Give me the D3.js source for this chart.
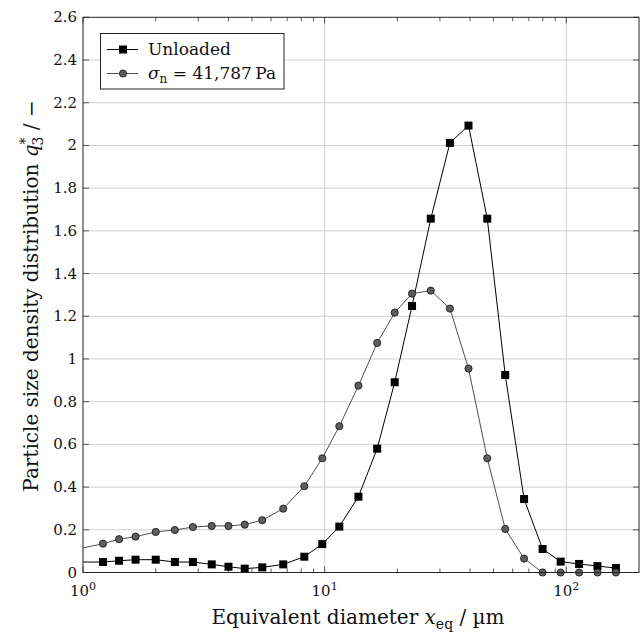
<!DOCTYPE html>
<html lang="en">
<head>
<meta charset="UTF-8">
<title>Particle size density</title>
<script src="https://cdn.jsdelivr.net/npm/d3@7"></script>
<style>
  body { margin: 0; background: #fff; }
  text { font-family: "DejaVu Serif", serif; fill: #111; }
</style>
</head>
<body>
<svg width="644" height="637"></svg>
<script>
// equivalent diameter (µm), shared by both series; the first one lies left of the axis
var diam = [0.85, 1.21, 1.41, 1.65, 2.0, 2.4, 2.85, 3.41, 4.0, 4.67, 5.52, 6.74, 8.24, 9.78,
            11.5, 13.8, 16.5, 19.5, 23.0, 27.5, 33.0, 39.4, 47.1, 55.9, 66.9, 79.8, 94.8, 113, 134.6, 160.5];
var unloaded = [0.049, 0.049, 0.055, 0.060, 0.060, 0.049, 0.049, 0.038, 0.027, 0.018, 0.024, 0.038, 0.074, 0.133,
                0.215, 0.355, 0.580, 0.891, 1.248, 1.657, 2.012, 2.093, 1.657, 0.925, 0.344, 0.110, 0.051, 0.040, 0.030, 0.021];
var loaded = [0.098, 0.135, 0.156, 0.168, 0.190, 0.199, 0.213, 0.218, 0.218, 0.224, 0.245, 0.299, 0.404, 0.535,
              0.685, 0.875, 1.075, 1.217, 1.306, 1.320, 1.236, 0.955, 0.535, 0.204, 0.065, 0.0, 0.0, 0.0, 0.0, 0.0];
var yTicks = [0, 0.2, 0.4, 0.6, 0.8, 1, 1.2, 1.4, 1.6, 1.8, 2, 2.2, 2.4, 2.6];
var yTickLabels = ["0", "0.2", "0.4", "0.6", "0.8", "1", "1.2", "1.4", "1.6", "1.8", "2", "2.2", "2.4", "2.6"];
var xMajor = [1, 10, 100];
var xExp = ["0", "1", "2"];
var xMinor = [2, 3, 4, 5, 6, 7, 8, 9, 20, 30, 40, 50, 60, 70, 80, 90];

var L = 83, R = 639, T = 17.3, B = 572.5;
var x = d3.scaleLog().domain([1, 200]).range([L, R]);
var y = d3.scaleLinear().domain([0, 2.6]).range([B, T]);

var svg = d3.select('svg');
svg.append('defs').append('clipPath').attr('id', 'clip')
  .append('rect').attr('x', L).attr('y', T).attr('width', R - L).attr('height', B - T);

// grid
var grid = svg.append('g').attr('stroke', '#cfcfcf').attr('stroke-width', 1);
grid.selectAll('.gy').data(yTicks.slice(1, -1)).enter().append('line')
  .attr('x1', L).attr('x2', R).attr('y1', d => y(d)).attr('y2', d => y(d));
grid.selectAll('.gx').data(xMajor.slice(1)).enter().append('line')
  .attr('y1', T).attr('y2', B).attr('x1', d => x(d)).attr('x2', d => x(d));

// ticks (inward, both sides)
var ticks = svg.append('g').attr('stroke', '#333').attr('stroke-width', 0.8);
yTicks.forEach(function (d) {
  ticks.append('line').attr('x1', L).attr('x2', L + 6).attr('y1', y(d)).attr('y2', y(d));
  ticks.append('line').attr('x1', R).attr('x2', R - 6).attr('y1', y(d)).attr('y2', y(d));
});
xMajor.forEach(function (d) {
  ticks.append('line').attr('x1', x(d)).attr('x2', x(d)).attr('y1', B).attr('y2', B - 6);
  ticks.append('line').attr('x1', x(d)).attr('x2', x(d)).attr('y1', T).attr('y2', T + 6);
});
xMinor.forEach(function (d) {
  ticks.append('line').attr('x1', x(d)).attr('x2', x(d)).attr('y1', B).attr('y2', B - 4);
  ticks.append('line').attr('x1', x(d)).attr('x2', x(d)).attr('y1', T).attr('y2', T + 4);
});

// tick labels
svg.selectAll('.yl').data(yTicks).enter().append('text')
  .attr('x', L - 6).attr('y', d => y(d) + 5).attr('text-anchor', 'end')
  .attr('font-size', 15).text((d, i) => yTickLabels[i]);
xMajor.forEach(function (d, i) {
  var t = svg.append('text').attr('x', x(d)).attr('y', 596).attr('text-anchor', 'middle').attr('font-size', 15);
  t.append('tspan').text('10');
  t.append('tspan').attr('dy', -6).attr('font-size', 11).text(xExp[i]);
});

// lines
function series(vals) { return diam.map((d, i) => [d, vals[i]]); }
var line = d3.line().x(d => x(d[0])).y(d => y(d[1]));
var plot = svg.append('g');
plot.append('path').datum(series(loaded)).attr('clip-path', 'url(#clip)')
  .attr('fill', 'none').attr('stroke', '#222').attr('stroke-width', 0.8).attr('d', line);
plot.append('path').datum(series(unloaded)).attr('clip-path', 'url(#clip)')
  .attr('fill', 'none').attr('stroke', '#000').attr('stroke-width', 1).attr('d', line);

// markers only inside the x range
var inRange = d => d[0] >= 1 && d[0] <= 200;
plot.selectAll('.sq').data(series(unloaded).filter(inRange)).enter().append('rect')
  .attr('x', d => x(d[0]) - 4).attr('y', d => y(d[1]) - 4).attr('width', 8).attr('height', 8)
  .attr('fill', '#000');
plot.selectAll('.ci').data(series(loaded).filter(inRange)).enter().append('circle')
  .attr('cx', d => x(d[0])).attr('cy', d => y(d[1])).attr('r', 3.6)
  .attr('fill', '#5e5e5e').attr('stroke', '#111').attr('stroke-width', 0.8);

// frame
svg.append('rect').attr('x', L).attr('y', T).attr('width', R - L).attr('height', B - T)
  .attr('fill', 'none').attr('stroke', '#222').attr('stroke-width', 1);

// legend
var lg = svg.append('g');
lg.append('rect').attr('x', 100.5).attr('y', 33.5).attr('width', 183.5).attr('height', 55.5)
  .attr('fill', '#fff').attr('stroke', '#222').attr('stroke-width', 1);
lg.append('line').attr('x1', 107).attr('x2', 138).attr('y1', 49.5).attr('y2', 49.5).attr('stroke', '#000');
lg.append('rect').attr('x', 119).attr('y', 45.5).attr('width', 8).attr('height', 8).attr('fill', '#000');
lg.append('line').attr('x1', 107).attr('x2', 138).attr('y1', 73.5).attr('y2', 73.5).attr('stroke', '#222').attr('stroke-width', 0.8);
lg.append('circle').attr('cx', 123).attr('cy', 73.5).attr('r', 3.6).attr('fill', '#5e5e5e').attr('stroke', '#111').attr('stroke-width', 0.8);
lg.append('text').attr('x', 148).attr('y', 55).attr('font-size', 17).text('Unloaded');
var t2 = lg.append('text').attr('x', 148).attr('y', 79).attr('font-size', 17);
t2.append('tspan').attr('font-style', 'italic').text('σ');
t2.append('tspan').attr('dy', 4).attr('font-size', 12).text('n');
t2.append('tspan').attr('dy', -4).text(' = 41,787\u2009Pa');

// axis labels
var xl = svg.append('text').attr('x', 358).attr('y', 624).attr('text-anchor', 'middle').attr('font-size', 20);
xl.append('tspan').text('Equivalent diameter ');
xl.append('tspan').attr('font-style', 'italic').text('x');
xl.append('tspan').attr('dy', 5).attr('font-size', 14).text('eq');
xl.append('tspan').attr('dy', -5).text(' / µm');

var yl = svg.append('text').attr('transform', 'translate(38,296) rotate(-90)')
  .attr('text-anchor', 'middle').attr('font-size', 20);
yl.append('tspan').text('Particle size density distribution ');
yl.append('tspan').attr('font-style', 'italic').text('q');
yl.append('tspan').attr('dy', -8).attr('font-size', 14).text('*');
yl.append('tspan').attr('dx', -8).attr('dy', 13).attr('font-size', 14).text('3');
yl.append('tspan').attr('dy', -5).text(' / −');
</script>
</body>
</html>
